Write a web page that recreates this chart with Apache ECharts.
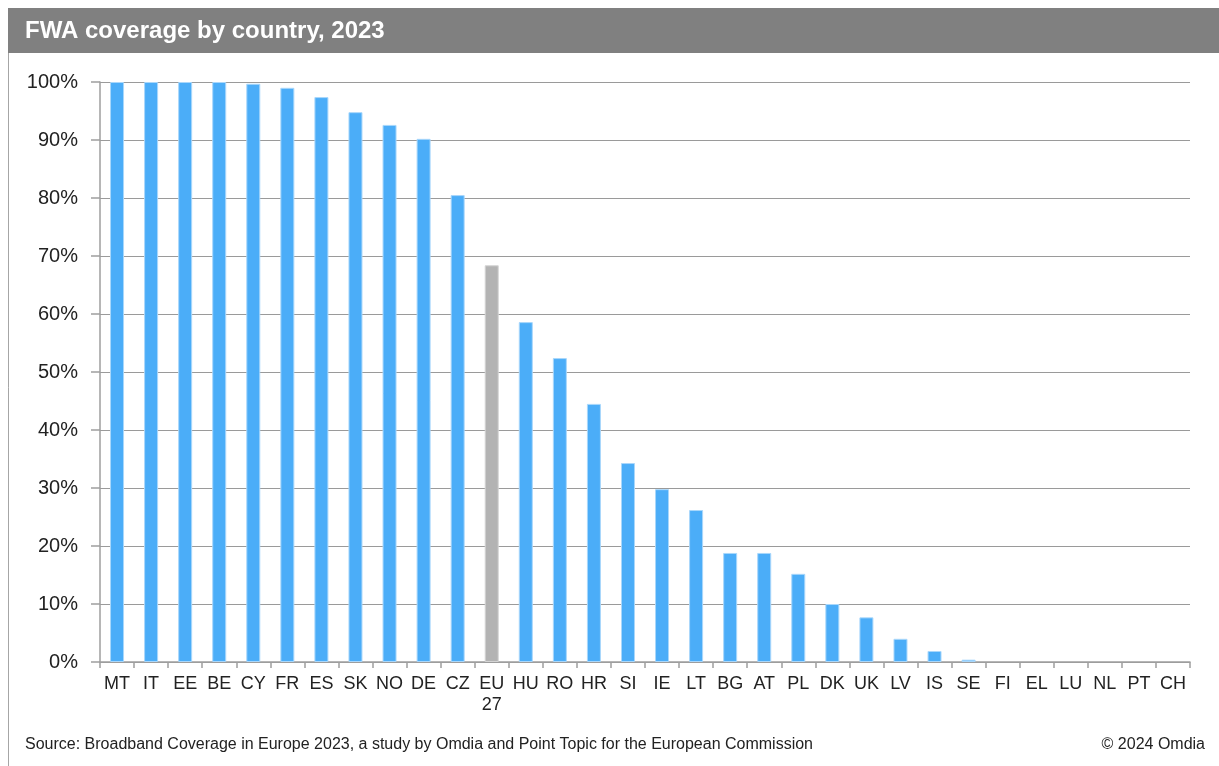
<!DOCTYPE html>
<html>
<head>
<meta charset="utf-8">
<title>FWA coverage by country, 2023</title>
<script src="https://cdn.jsdelivr.net/npm/echarts@6/dist/echarts.min.js"></script>
<style>
  html, body { margin: 0; padding: 0; background: #fff; }
  #chart { width: 1219px; height: 766px; }
</style>
</head>
<body>
<div id="chart"></div>
<script>
// Country codes along the x axis (EU 27 average highlighted)
const countries = ['MT', 'IT', 'EE', 'BE', 'CY', 'FR', 'ES', 'SK', 'NO', 'DE', 'CZ', 'EU\n27',
  'HU', 'RO', 'HR', 'SI', 'IE', 'LT', 'BG', 'AT', 'PL', 'DK', 'UK', 'LV', 'IS', 'SE',
  'FI', 'EL', 'LU', 'NL', 'PT', 'CH'];

// FWA coverage, % of households
const coverage = [100, 100, 100, 100, 99.7, 99.0, 97.4, 94.8, 92.6, 90.2, 80.5, 68.4,
  58.6, 52.4, 44.5, 34.3, 29.8, 26.2, 18.8, 18.8, 15.2, 10.0, 7.7, 4.0, 1.9, 0.4,
  0, 0, 0, 0, 0, 0];

const averageLabel = 'EU\n27';
const yTicks = [0, 10, 20, 30, 40, 50, 60, 70, 80, 90, 100];

const titleText = 'FWA coverage by country, 2023';
const sourceText = 'Source: Broadband Coverage in Europe 2023, a study by Omdia and Point Topic for the European Commission';
const copyrightText = '\u00A9 2024 Omdia';

const FONT = '"Liberation Sans", Arial, sans-serif';
const BLUE = '#4badf8';
const GREY = '#b3b3b3';

const chart = echarts.init(document.getElementById('chart'), null, { renderer: 'canvas' });

chart.setOption({
  animation: false,
  backgroundColor: '#ffffff',
  textStyle: { fontFamily: FONT },
  graphic: [
    // outer frame
    {
      type: 'rect', silent: true, z: -10,
      shape: { x: 8.5, y: 8.5, width: 1230, height: 780 },
      style: { fill: '#ffffff', stroke: '#a6a6a6', lineWidth: 1 }
    },
    // title band
    {
      type: 'rect', silent: true, z: -5,
      shape: { x: 8, y: 8, width: 1215, height: 45 },
      style: { fill: '#808080' }
    },
    {
      type: 'text', silent: true, left: 25, top: 19,
      style: { text: titleText, fill: '#ffffff', font: 'bold 24px ' + FONT }
    },
    {
      type: 'text', silent: true, left: 25, top: 737,
      style: { text: sourceText, fill: '#222222', font: '16px ' + FONT }
    },
    {
      type: 'text', silent: true, right: 14, top: 737,
      style: { text: copyrightText, fill: '#222222', font: '16px ' + FONT, align: 'right' }
    }
  ],
  grid: { left: 100, right: 29, top: 82, bottom: 104, containLabel: false },
  xAxis: {
    type: 'category',
    data: countries,
    boundaryGap: true,
    axisLine: { show: true, lineStyle: { color: '#9e9e9e', width: 1.5 } },
    axisTick: { show: true, alignWithLabel: false, length: 6, lineStyle: { color: '#9e9e9e', width: 1.5 } },
    axisLabel: {
      interval: 0, margin: 12, color: '#222222', fontSize: 18, fontFamily: FONT,
      lineHeight: 21, verticalAlign: 'top'
    },
    splitLine: { show: false }
  },
  yAxis: {
    type: 'value',
    min: yTicks[0],
    max: yTicks[yTicks.length - 1],
    interval: 10,
    axisLine: { show: true, lineStyle: { color: '#9e9e9e', width: 1.5 } },
    axisTick: { show: true, length: 9, lineStyle: { color: '#9e9e9e', width: 1.5 } },
    axisLabel: {
      margin: 22, color: '#222222', fontSize: 20, fontFamily: FONT,
      formatter: v => v + '%'
    },
    splitLine: { show: true, lineStyle: { color: '#9a9a9a', width: 1.2 } }
  },
  series: [{
    type: 'bar',
    barWidth: 14,
    data: coverage.map((v, i) => ({
      value: v,
      itemStyle: {
        color: countries[i] === averageLabel ? GREY : BLUE,
        borderColor: countries[i] === averageLabel ? '#d4d4d4' : '#a9d7fb',
        borderWidth: v > 0 ? 1 : 0
      }
    })),
    z: 3
  }]
});
</script>
</body>
</html>
